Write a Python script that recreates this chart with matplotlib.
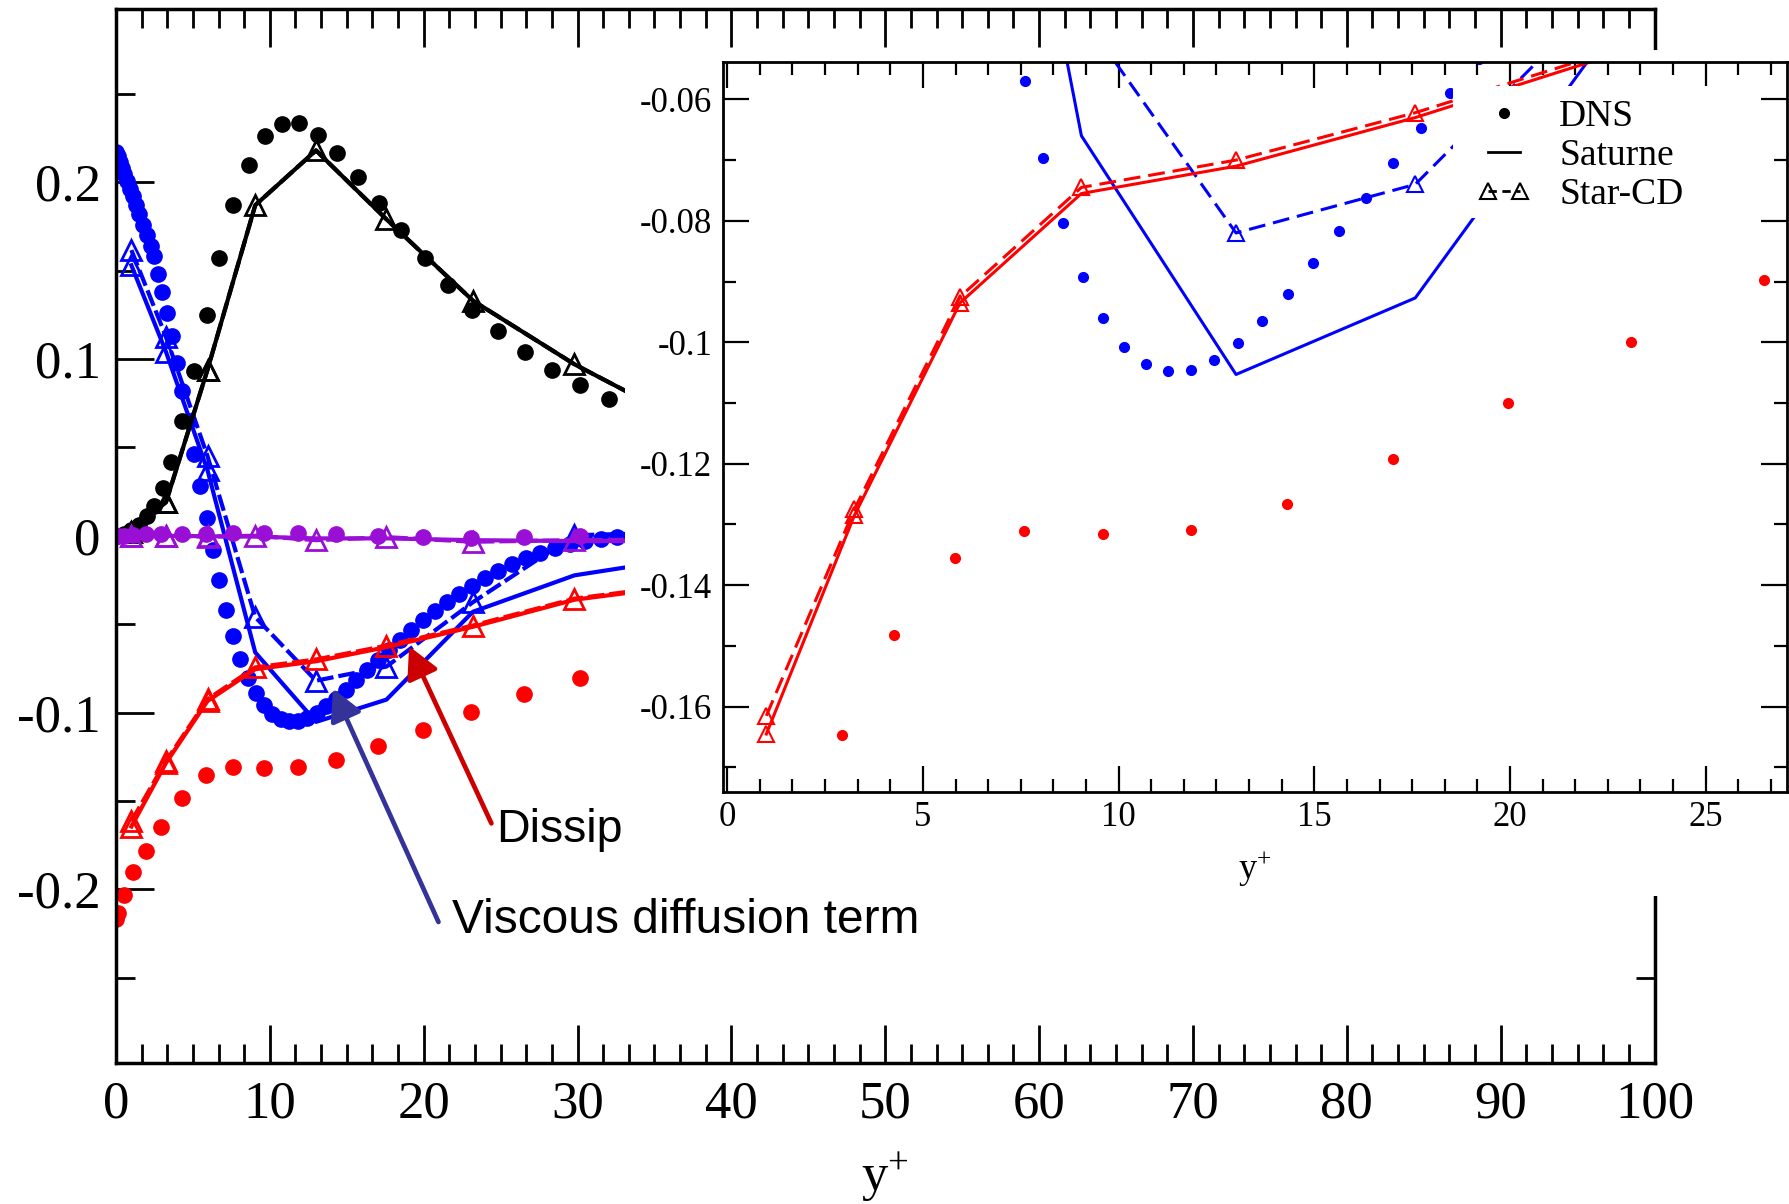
import matplotlib
matplotlib.use("Agg")
import matplotlib.pyplot as plt
from matplotlib.ticker import MultipleLocator, AutoMinorLocator, FuncFormatter
from matplotlib.patches import Rectangle
from matplotlib.lines import Line2D
from matplotlib.legend_handler import HandlerLine2D

plt.rcParams['font.family'] = ['Liberation Serif', 'DejaVu Serif']
plt.rcParams['axes.unicode_minus'] = False
plt.rcParams['mathtext.fontset'] = 'custom'
plt.rcParams['mathtext.rm'] = 'Liberation Serif'

# ---- DNS profiles (y+ and budget terms) ----
blue_dns_x = [0.0, 0.1, 0.25, 0.4, 0.55, 0.72, 0.9, 1.08, 1.28, 1.48, 1.74, 2.01,
              2.25, 2.49, 2.75, 2.97, 3.3, 3.62, 3.94, 4.27, 4.65, 5.06, 5.48,
              5.91, 6.31, 6.71, 7.15, 7.6, 8.07, 8.58, 9.09, 9.61, 10.15, 10.7,
              11.27, 11.84, 12.43, 13.06, 13.67, 14.33, 14.97, 15.63, 16.32,
              17.02, 17.73, 18.46, 19.2, 19.95, 20.72, 21.5, 22.3, 23.13, 23.98,
              24.85, 25.74, 26.65, 27.58, 28.53, 29.5, 30.5, 31.52, 32.56, 33.6]
blue_dns_y = [0.217, 0.215, 0.2115, 0.208, 0.2045, 0.2005, 0.196, 0.192, 0.187,
              0.182, 0.176, 0.17, 0.164, 0.158, 0.148, 0.138, 0.126, 0.113, 0.098,
              0.082, 0.065, 0.046, 0.028, 0.01, -0.008, -0.025, -0.042, -0.0569,
              -0.0697, -0.0804, -0.0892, -0.096, -0.1007, -0.1035, -0.1048,
              -0.1046, -0.1029, -0.1001, -0.0965, -0.0921, -0.087, -0.0817,
              -0.0762, -0.0705, -0.0647, -0.059, -0.0533, -0.0478, -0.0425,
              -0.0375, -0.0328, -0.0282, -0.0238, -0.0197, -0.016, -0.0126,
              -0.0096, -0.007, -0.0048, -0.003, -0.0016, -0.0006, 0.0]

black_dns_x = [0.0, 0.5, 1.0, 1.48, 2.01, 2.49, 3.07, 3.6, 4.32, 5.06, 5.91, 6.71,
               7.59, 8.65, 9.66, 10.77, 11.88, 13.1, 14.35, 15.73, 17.09, 18.55,
               20.06, 21.57, 23.16, 24.83, 26.56, 28.34, 30.14, 32.05, 34.0]
black_dns_y = [0.0, 0.001, 0.003, 0.006, 0.011, 0.017, 0.027, 0.042, 0.065, 0.093,
               0.125, 0.157, 0.187, 0.21, 0.226, 0.233, 0.2336, 0.227, 0.2165,
               0.203, 0.188, 0.1727, 0.157, 0.1418, 0.1277, 0.1156, 0.104, 0.094,
               0.0853, 0.0772, 0.07]

red_dns_x = [0.0, 0.1, 0.5, 1.08, 1.93, 2.94, 4.27, 5.82, 7.59, 9.61, 11.84, 14.31,
             17.02, 19.95, 23.1, 26.49, 30.14, 34.0]
red_dns_y = [-0.217, -0.2135, -0.203, -0.19, -0.1785, -0.1647, -0.1482, -0.1356,
             -0.1311, -0.1315, -0.1309, -0.1266, -0.1192, -0.11, -0.0999, -0.0898,
             -0.0802, -0.072]

purple_dns_x = red_dns_x
purple_dns_y = [0.0, 0.0, 0.0, 0.0005, 0.0008, 0.001, 0.001, 0.0012, 0.0015, 0.0015,
                0.0013, 0.0008, 0.0, -0.0008, -0.0012, -0.0005, -0.0003, 0.0]

# ---- RANS results (Saturne / Star-CD) ----
cfd_x = [1.0, 3.25, 5.95, 9.05, 13.0, 17.58, 23.2, 29.8, 37.5]

black_sat = [0.002, 0.019, 0.094, 0.187, 0.218, 0.179, 0.133, 0.097, 0.062]
black_star = [0.002, 0.019, 0.094, 0.187, 0.218, 0.179, 0.133, 0.097, 0.062]
blue_sat = [0.153, 0.104, 0.037, -0.066, -0.1053, -0.0927, -0.043, -0.0224, -0.012]
blue_star = [0.1616, 0.1126, 0.045, -0.046, -0.082, -0.074, -0.0376, 0.0003, 0.002]
red_sat = [-0.1645, -0.1285, -0.0935, -0.0755, -0.071, -0.063, -0.0515, -0.0362, -0.0275]
red_star = [-0.1615, -0.1275, -0.0925, -0.0745, -0.070, -0.0622, -0.0508, -0.0356, -0.027]
purple_sat = [0.0, 0.0, -0.0003, -0.0005, -0.0015, -0.0015, -0.0025, -0.003, -0.003]
purple_star = [0.0, 0.0, -0.0005, 0.0, -0.0025, -0.0008, -0.0034, -0.0025, -0.002]

BLUE, BLACK, RED, PURPLE = '#0000FF', '#000000', '#FF0000', '#9A0FD6'
series = [
    (BLUE, blue_dns_x, blue_dns_y, blue_sat, blue_star),
    (BLACK, black_dns_x, black_dns_y, black_sat, black_star),
    (RED, red_dns_x, red_dns_y, red_sat, red_star),
    (PURPLE, purple_dns_x, purple_dns_y, purple_sat, purple_star),
]

W, H = 1789, 1204


def px_box(x0, y0, x1, y1):
    return [x0 / W, 1 - y1 / H, (x1 - x0) / W, (y1 - y0) / H]


def fmt(v, pos):
    if abs(v) < 1e-9:
        return '0'
    return '%g' % round(v, 6)


def draw_terms(a, dot_ms, tri_ms, lw, mew, dashes):
    for color, dx, dy, sat, star in series:
        a.plot(cfd_x, sat, '-', color=color, lw=lw, marker='^', ms=tri_ms,
               mfc='none', mew=mew, markevery=[0, 1, 2])
        a.plot(cfd_x, star, color=color, lw=lw, dashes=dashes, marker='^',
               ms=tri_ms, mfc='none', mew=mew)
        a.plot(dx, dy, 'o', color=color, ms=dot_ms, ls='none')


fig = plt.figure(figsize=(W / 100, H / 100), dpi=100)

# ---- main axes ----
ax = fig.add_axes(px_box(116, 9, 1654.5, 1062.5))
ax.set_zorder(0)
draw_terms(ax, 11, 14, 3.0, 2.0, (4, 1.2))
ax.set_xlim(0, 100)
ax.set_ylim(-0.298, 0.298)
ax.xaxis.set_major_locator(MultipleLocator(10))
ax.xaxis.set_minor_locator(AutoMinorLocator(6))
ax.yaxis.set_major_locator(MultipleLocator(0.1))
ax.yaxis.set_minor_locator(AutoMinorLocator(2))
ax.yaxis.set_major_formatter(FuncFormatter(fmt))
ax.tick_params(which='both', direction='in', top=True, right=True, width=2,
               labelsize=38)
ax.tick_params(which='major', length=27.5)
ax.tick_params(which='minor', length=13.7)
ax.tick_params(axis='x', pad=13)
ax.tick_params(axis='y', pad=11)
for s in ax.spines.values():
    s.set_linewidth(2.5)
ax.set_xlabel(r'$\mathrm{y^{+}}$', fontsize=38, labelpad=16)

# arrows and labels
ax.annotate('', xy=(19.05, -0.0625), xytext=(24.4, -0.1627),
            arrowprops=dict(arrowstyle='-|>,head_length=0.95,head_width=0.5',
                            color='#CC0000', lw=3.4, shrinkA=0, shrinkB=0,
                            mutation_scale=20))
ax.annotate('', xy=(14.1, -0.0864), xytext=(20.96, -0.2185),
            arrowprops=dict(arrowstyle='-|>,head_length=0.95,head_width=0.5',
                            color='#333399', lw=3.4, shrinkA=0, shrinkB=0,
                            mutation_scale=20))
ax.text(24.7, -0.1735, 'Dissip', fontsize=33.5, family='Liberation Sans',
        ha='left', va='baseline')
ax.text(21.83, -0.2245, 'Viscous diffusion term', fontsize=34.5,
        family='Liberation Sans', ha='left', va='baseline')

# white panel that carries the zoomed view
fig.add_artist(Rectangle((625 / W, 1 - 896 / H), 1 - 625 / W, (896 - 50) / H,
                         transform=fig.transFigure, facecolor='white',
                         edgecolor='none', zorder=1))

# ---- inset ----
ins = fig.add_axes(px_box(723.3, 61.7, 1786.7, 791.7))
ins.set_zorder(2)
draw_terms(ins, 7, 12, 2.2, 1.5, (5.5, 2.6))
ins.set_xlim(-0.1, 27.07)
ins.set_ylim(-0.174, -0.0538)
ins.xaxis.set_major_locator(MultipleLocator(5))
ins.xaxis.set_minor_locator(AutoMinorLocator(6))
ins.yaxis.set_major_locator(MultipleLocator(0.02))
ins.yaxis.set_minor_locator(AutoMinorLocator(2))
ins.yaxis.set_major_formatter(FuncFormatter(fmt))
ins.tick_params(which='both', direction='in', top=True, right=True, width=1.6,
                labelsize=25)
ins.tick_params(which='major', length=19)
ins.tick_params(which='minor', length=9.4)
ins.tick_params(axis='x', pad=7)
ins.tick_params(axis='y', pad=8)
for s in ins.spines.values():
    s.set_linewidth(2.0)
ins.set_xlabel(r'$\mathrm{y^{+}}$', fontsize=26, labelpad=11)

ins.add_patch(Rectangle((0.686, 0.786), 0.25, 0.181, transform=ins.transAxes,
                        facecolor='white', edgecolor='none', zorder=4))
h_dns = Line2D([], [], ls='none', marker='o', color='k', ms=7)
h_sat = Line2D([], [], ls='-', color='k', lw=2)
h_star = Line2D([], [], color='k', lw=2, dashes=(3, 2), marker='^', ms=11,
                mfc='none', mew=1.5)
ins.legend([h_dns, h_sat, h_star], ['DNS', 'Saturne', 'Star-CD'],
           loc='upper left', bbox_to_anchor=(0.7085, 0.948), frameon=False,
           fontsize=27, handlelength=1.45, handletextpad=0.75, labelspacing=0.12,
           borderpad=0, borderaxespad=0, numpoints=2,
           handler_map={h_dns: HandlerLine2D(numpoints=1)})

fig.savefig('out.png', dpi=100)
